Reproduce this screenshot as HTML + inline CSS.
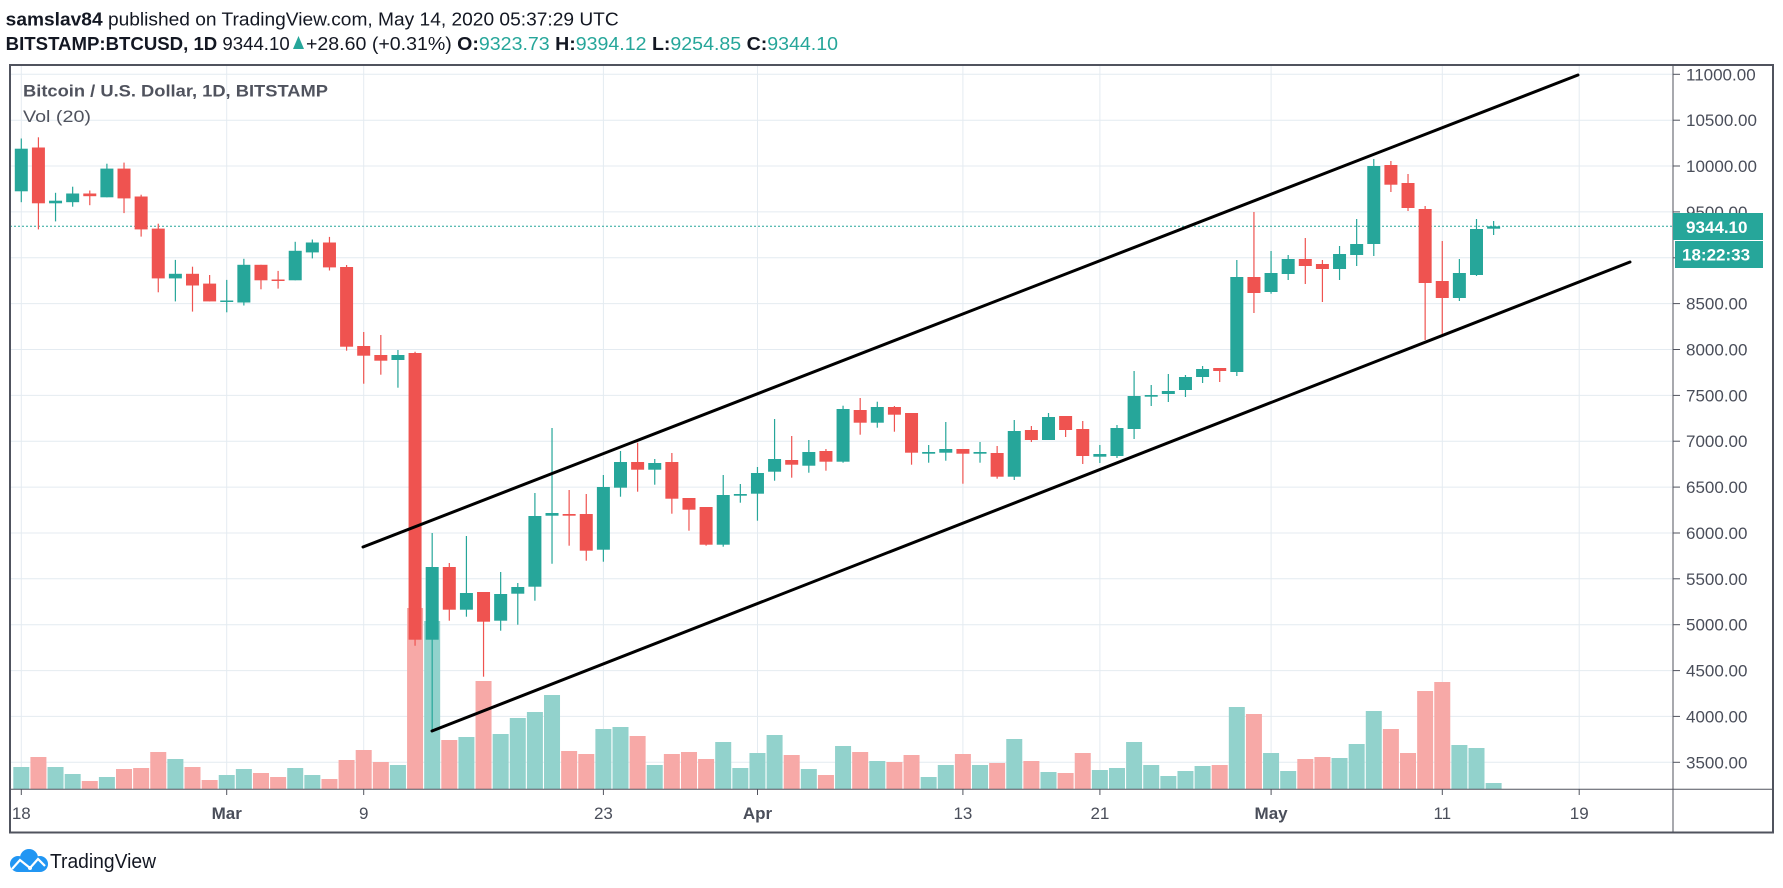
<!DOCTYPE html>
<html><head><meta charset="utf-8">
<style>
html,body{margin:0;padding:0;background:#fff;}
svg{display:block;font-family:"Liberation Sans",Arial,sans-serif;}
.g line{stroke:#26a69a;stroke-width:1.2}
.g rect.b{fill:#26a69a}
.r line{stroke:#ef5350;stroke-width:1.2}
.r rect.b{fill:#ef5350}
.g rect.v{fill:#92d2cc}
.r rect.v{fill:#f7a9a7}
.grid line{stroke:#e4ebf1;stroke-width:1}
.pl{font-size:17px;fill:#4a4e5a}
.xl{font-size:17px;fill:#4a4e5a;text-anchor:middle}
</style></head>
<body>
<svg width="1783" height="888" viewBox="0 0 1783 888" xmlns="http://www.w3.org/2000/svg">
<rect width="1783" height="888" fill="#fff"/>

<!-- header -->
<text x="5.7" y="25.5" font-size="18" fill="#131722" textLength="613" lengthAdjust="spacingAndGlyphs"><tspan font-weight="bold">samslav84</tspan> published on TradingView.com, May 14, 2020 05:37:29 UTC</text>
<text x="5.7" y="50" font-size="18" fill="#131722" textLength="284" lengthAdjust="spacingAndGlyphs"><tspan font-weight="bold">BITSTAMP:BTCUSD, 1D</tspan> 9344.10</text>
<polygon points="293,49 304,49 298.5,36" fill="#26a69a"/>
<text x="306" y="50" font-size="18" fill="#131722" textLength="532" lengthAdjust="spacingAndGlyphs">+28.60 (+0.31%) <tspan font-weight="bold">O:</tspan><tspan fill="#26a69a">9323.73</tspan> <tspan font-weight="bold">H:</tspan><tspan fill="#26a69a">9394.12</tspan> <tspan font-weight="bold">L:</tspan><tspan fill="#26a69a">9254.85</tspan> <tspan font-weight="bold">C:</tspan><tspan fill="#26a69a">9344.10</tspan></text>

<!-- grid -->
<g class="grid">
<line x1="10" x2="1673" y1="74.3" y2="74.3"/>
<line x1="10" x2="1673" y1="120.2" y2="120.2"/>
<line x1="10" x2="1673" y1="166" y2="166"/>
<line x1="10" x2="1673" y1="211.9" y2="211.9"/>
<line x1="10" x2="1673" y1="257.8" y2="257.8"/>
<line x1="10" x2="1673" y1="303.6" y2="303.6"/>
<line x1="10" x2="1673" y1="349.5" y2="349.5"/>
<line x1="10" x2="1673" y1="395.4" y2="395.4"/>
<line x1="10" x2="1673" y1="441.2" y2="441.2"/>
<line x1="10" x2="1673" y1="487.1" y2="487.1"/>
<line x1="10" x2="1673" y1="533" y2="533"/>
<line x1="10" x2="1673" y1="578.8" y2="578.8"/>
<line x1="10" x2="1673" y1="624.7" y2="624.7"/>
<line x1="10" x2="1673" y1="670.6" y2="670.6"/>
<line x1="10" x2="1673" y1="716.4" y2="716.4"/>
<line x1="10" x2="1673" y1="762.3" y2="762.3"/>
<line x1="21.3" x2="21.3" y1="65" y2="789"/>
<line x1="226.7" x2="226.7" y1="65" y2="789"/>
<line x1="363.7" x2="363.7" y1="65" y2="789"/>
<line x1="603.4" x2="603.4" y1="65" y2="789"/>
<line x1="757.5" x2="757.5" y1="65" y2="789"/>
<line x1="962.9" x2="962.9" y1="65" y2="789"/>
<line x1="1099.9" x2="1099.9" y1="65" y2="789"/>
<line x1="1271.1" x2="1271.1" y1="65" y2="789"/>
<line x1="1442.3" x2="1442.3" y1="65" y2="789"/>
<line x1="1579.2" x2="1579.2" y1="65" y2="789"/>
</g>

<!-- titles -->
<text x="23" y="96.5" font-size="17" font-weight="bold" fill="#50535e" textLength="305" lengthAdjust="spacingAndGlyphs">Bitcoin / U.S. Dollar, 1D, BITSTAMP</text>
<text x="23" y="122" font-size="17" fill="#50535e" textLength="68" lengthAdjust="spacingAndGlyphs">Vol (20)</text>

<!-- current price dotted line -->
<line x1="10" x2="1673" y1="226.2" y2="226.2" stroke="#26a69a" stroke-width="1" stroke-dasharray="2,2"/>

<!-- candles + volume -->
<g class="g" transform="translate(21.3)"><rect class="v" x="-8" width="16" y="767" height="22"/><line x1="0" x2="0" y1="138.5" y2="202.2"/><rect class="b" x="-6.5" width="13" y="148.7" height="42.6"/></g>
<g class="r" transform="translate(38.42)"><rect class="v" x="-8" width="16" y="757" height="32"/><line x1="0" x2="0" y1="137.3" y2="229.4"/><rect class="b" x="-6.5" width="13" y="147.5" height="55.8"/></g>
<g class="g" transform="translate(55.54)"><rect class="v" x="-8" width="16" y="767" height="22"/><line x1="0" x2="0" y1="192.8" y2="221.4"/><rect class="b" x="-6.5" width="13" y="200.7" height="2.6"/></g>
<g class="g" transform="translate(72.66)"><rect class="v" x="-8" width="16" y="774" height="15"/><line x1="0" x2="0" y1="186.7" y2="206.7"/><rect class="b" x="-6.5" width="13" y="193.5" height="8.7"/></g>
<g class="r" transform="translate(89.78)"><rect class="v" x="-8" width="16" y="781" height="8"/><line x1="0" x2="0" y1="190.5" y2="205.2"/><rect class="b" x="-6.5" width="13" y="193.5" height="2.7"/></g>
<g class="g" transform="translate(106.9)"><rect class="v" x="-8" width="16" y="777" height="12"/><line x1="0" x2="0" y1="163.7" y2="197.3"/><rect class="b" x="-6.5" width="13" y="168.6" height="28.7"/></g>
<g class="r" transform="translate(124.02)"><rect class="v" x="-8" width="16" y="769" height="20"/><line x1="0" x2="0" y1="162.6" y2="213.1"/><rect class="b" x="-6.5" width="13" y="168.6" height="29.8"/></g>
<g class="r" transform="translate(141.14)"><rect class="v" x="-8" width="16" y="768" height="21"/><line x1="0" x2="0" y1="194.7" y2="236.6"/><rect class="b" x="-6.5" width="13" y="196.5" height="32.9"/></g>
<g class="r" transform="translate(158.26)"><rect class="v" x="-8" width="16" y="752" height="37"/><line x1="0" x2="0" y1="223.7" y2="292.3"/><rect class="b" x="-6.5" width="13" y="228.6" height="49.8"/></g>
<g class="g" transform="translate(175.38)"><rect class="v" x="-8" width="16" y="759" height="30"/><line x1="0" x2="0" y1="259.9" y2="301.4"/><rect class="b" x="-6.5" width="13" y="273.8" height="4.6"/></g>
<g class="r" transform="translate(192.5)"><rect class="v" x="-8" width="16" y="767" height="22"/><line x1="0" x2="0" y1="266.7" y2="311.6"/><rect class="b" x="-6.5" width="13" y="273.8" height="11.7"/></g>
<g class="r" transform="translate(209.62)"><rect class="v" x="-8" width="16" y="780" height="9"/><line x1="0" x2="0" y1="275" y2="301.4"/><rect class="b" x="-6.5" width="13" y="283.6" height="17.8"/></g>
<g class="g" transform="translate(226.74)"><rect class="v" x="-8" width="16" y="775" height="14"/><line x1="0" x2="0" y1="279.9" y2="312.3"/><rect class="b" x="-6.5" width="13" y="300.5" height="1.5"/></g>
<g class="g" transform="translate(243.86)"><rect class="v" x="-8" width="16" y="769" height="20"/><line x1="0" x2="0" y1="258.8" y2="305.5"/><rect class="b" x="-6.5" width="13" y="264.8" height="37.7"/></g>
<g class="r" transform="translate(260.98)"><rect class="v" x="-8" width="16" y="773" height="16"/><line x1="0" x2="0" y1="264.8" y2="289.3"/><rect class="b" x="-6.5" width="13" y="264.8" height="15.5"/></g>
<g class="r" transform="translate(278.1)"><rect class="v" x="-8" width="16" y="777" height="12"/><line x1="0" x2="0" y1="270.9" y2="288.6"/><rect class="b" x="-6.5" width="13" y="279.5" height="1.5"/></g>
<g class="g" transform="translate(295.22)"><rect class="v" x="-8" width="16" y="768" height="21"/><line x1="0" x2="0" y1="241.8" y2="280.3"/><rect class="b" x="-6.5" width="13" y="250.8" height="29.5"/></g>
<g class="g" transform="translate(312.34)"><rect class="v" x="-8" width="16" y="775" height="14"/><line x1="0" x2="0" y1="239.5" y2="258.4"/><rect class="b" x="-6.5" width="13" y="242.5" height="9.9"/></g>
<g class="r" transform="translate(329.46)"><rect class="v" x="-8" width="16" y="779" height="10"/><line x1="0" x2="0" y1="236.9" y2="270.5"/><rect class="b" x="-6.5" width="13" y="242.5" height="24.9"/></g>
<g class="r" transform="translate(346.58)"><rect class="v" x="-8" width="16" y="760" height="29"/><line x1="0" x2="0" y1="265" y2="350.7"/><rect class="b" x="-6.5" width="13" y="267" height="79.7"/></g>
<g class="r" transform="translate(363.7)"><rect class="v" x="-8" width="16" y="750" height="39"/><line x1="0" x2="0" y1="332" y2="383.7"/><rect class="b" x="-6.5" width="13" y="346" height="9.7"/></g>
<g class="r" transform="translate(380.82)"><rect class="v" x="-8" width="16" y="762" height="27"/><line x1="0" x2="0" y1="335" y2="374.7"/><rect class="b" x="-6.5" width="13" y="355" height="5.7"/></g>
<g class="g" transform="translate(397.94)"><rect class="v" x="-8" width="16" y="765" height="24"/><line x1="0" x2="0" y1="350" y2="387.7"/><rect class="b" x="-6.5" width="13" y="355" height="5"/></g>
<g class="r" transform="translate(415.06)"><rect class="v" x="-8" width="16" y="608" height="181"/><line x1="0" x2="0" y1="351.7" y2="645.7"/><rect class="b" x="-6.5" width="13" y="353" height="286.7"/></g>
<g class="g" transform="translate(432.18)"><rect class="v" x="-8" width="16" y="621" height="168"/><line x1="0" x2="0" y1="533" y2="730"/><rect class="b" x="-6.5" width="13" y="567" height="72.7"/></g>
<g class="r" transform="translate(449.3)"><rect class="v" x="-8" width="16" y="740" height="49"/><line x1="0" x2="0" y1="563" y2="620.7"/><rect class="b" x="-6.5" width="13" y="567" height="42.7"/></g>
<g class="g" transform="translate(466.42)"><rect class="v" x="-8" width="16" y="737" height="52"/><line x1="0" x2="0" y1="536" y2="616.7"/><rect class="b" x="-6.5" width="13" y="593" height="16.7"/></g>
<g class="r" transform="translate(483.54)"><rect class="v" x="-8" width="16" y="681" height="108"/><line x1="0" x2="0" y1="592" y2="676.7"/><rect class="b" x="-6.5" width="13" y="592" height="29.7"/></g>
<g class="g" transform="translate(500.66)"><rect class="v" x="-8" width="16" y="734" height="55"/><line x1="0" x2="0" y1="572" y2="630.7"/><rect class="b" x="-6.5" width="13" y="594" height="26.7"/></g>
<g class="g" transform="translate(517.78)"><rect class="v" x="-8" width="16" y="718" height="71"/><line x1="0" x2="0" y1="583" y2="624.7"/><rect class="b" x="-6.5" width="13" y="587" height="6.7"/></g>
<g class="g" transform="translate(534.9)"><rect class="v" x="-8" width="16" y="712" height="77"/><line x1="0" x2="0" y1="493" y2="600.7"/><rect class="b" x="-6.5" width="13" y="516" height="70.7"/></g>
<g class="g" transform="translate(552.02)"><rect class="v" x="-8" width="16" y="695" height="94"/><line x1="0" x2="0" y1="428" y2="563.7"/><rect class="b" x="-6.5" width="13" y="513" height="2.7"/></g>
<g class="r" transform="translate(569.14)"><rect class="v" x="-8" width="16" y="751" height="38"/><line x1="0" x2="0" y1="490" y2="545.7"/><rect class="b" x="-6.5" width="13" y="514" height="1.7"/></g>
<g class="r" transform="translate(586.26)"><rect class="v" x="-8" width="16" y="754" height="35"/><line x1="0" x2="0" y1="494" y2="560.7"/><rect class="b" x="-6.5" width="13" y="514" height="36.7"/></g>
<g class="g" transform="translate(603.38)"><rect class="v" x="-8" width="16" y="729" height="60"/><line x1="0" x2="0" y1="475" y2="561.7"/><rect class="b" x="-6.5" width="13" y="487" height="62.7"/></g>
<g class="g" transform="translate(620.5)"><rect class="v" x="-8" width="16" y="727" height="62"/><line x1="0" x2="0" y1="451" y2="496.7"/><rect class="b" x="-6.5" width="13" y="462" height="25.7"/></g>
<g class="r" transform="translate(637.62)"><rect class="v" x="-8" width="16" y="736" height="53"/><line x1="0" x2="0" y1="442.7" y2="491.7"/><rect class="b" x="-6.5" width="13" y="462" height="7.7"/></g>
<g class="g" transform="translate(654.74)"><rect class="v" x="-8" width="16" y="765" height="24"/><line x1="0" x2="0" y1="459" y2="484.7"/><rect class="b" x="-6.5" width="13" y="463" height="6.7"/></g>
<g class="r" transform="translate(671.86)"><rect class="v" x="-8" width="16" y="754" height="35"/><line x1="0" x2="0" y1="453" y2="513.7"/><rect class="b" x="-6.5" width="13" y="462" height="36.7"/></g>
<g class="r" transform="translate(688.98)"><rect class="v" x="-8" width="16" y="752" height="37"/><line x1="0" x2="0" y1="498" y2="530.7"/><rect class="b" x="-6.5" width="13" y="498" height="11.7"/></g>
<g class="r" transform="translate(706.1)"><rect class="v" x="-8" width="16" y="759" height="30"/><line x1="0" x2="0" y1="507" y2="545.7"/><rect class="b" x="-6.5" width="13" y="507" height="37.7"/></g>
<g class="g" transform="translate(723.22)"><rect class="v" x="-8" width="16" y="742" height="47"/><line x1="0" x2="0" y1="475" y2="546.7"/><rect class="b" x="-6.5" width="13" y="495" height="49.7"/></g>
<g class="g" transform="translate(740.34)"><rect class="v" x="-8" width="16" y="768" height="21"/><line x1="0" x2="0" y1="484" y2="502.7"/><rect class="b" x="-6.5" width="13" y="494" height="1.7"/></g>
<g class="g" transform="translate(757.46)"><rect class="v" x="-8" width="16" y="753" height="36"/><line x1="0" x2="0" y1="467" y2="520.7"/><rect class="b" x="-6.5" width="13" y="473" height="20.7"/></g>
<g class="g" transform="translate(774.58)"><rect class="v" x="-8" width="16" y="735" height="54"/><line x1="0" x2="0" y1="419" y2="480.7"/><rect class="b" x="-6.5" width="13" y="459" height="12.7"/></g>
<g class="r" transform="translate(791.7)"><rect class="v" x="-8" width="16" y="755" height="34"/><line x1="0" x2="0" y1="436" y2="477.7"/><rect class="b" x="-6.5" width="13" y="460" height="4.7"/></g>
<g class="g" transform="translate(808.82)"><rect class="v" x="-8" width="16" y="769" height="20"/><line x1="0" x2="0" y1="440" y2="472.7"/><rect class="b" x="-6.5" width="13" y="452" height="13.7"/></g>
<g class="r" transform="translate(825.94)"><rect class="v" x="-8" width="16" y="775" height="14"/><line x1="0" x2="0" y1="449" y2="470.7"/><rect class="b" x="-6.5" width="13" y="451" height="10.7"/></g>
<g class="g" transform="translate(843.06)"><rect class="v" x="-8" width="16" y="746" height="43"/><line x1="0" x2="0" y1="405.7" y2="462.7"/><rect class="b" x="-6.5" width="13" y="409" height="52.7"/></g>
<g class="r" transform="translate(860.18)"><rect class="v" x="-8" width="16" y="752" height="37"/><line x1="0" x2="0" y1="398" y2="434.7"/><rect class="b" x="-6.5" width="13" y="410" height="12.7"/></g>
<g class="g" transform="translate(877.3)"><rect class="v" x="-8" width="16" y="761" height="28"/><line x1="0" x2="0" y1="401.7" y2="427.7"/><rect class="b" x="-6.5" width="13" y="407" height="15.7"/></g>
<g class="r" transform="translate(894.42)"><rect class="v" x="-8" width="16" y="762" height="27"/><line x1="0" x2="0" y1="406" y2="431.7"/><rect class="b" x="-6.5" width="13" y="407" height="7.7"/></g>
<g class="r" transform="translate(911.54)"><rect class="v" x="-8" width="16" y="755" height="34"/><line x1="0" x2="0" y1="413" y2="464.7"/><rect class="b" x="-6.5" width="13" y="413" height="39.7"/></g>
<g class="g" transform="translate(928.66)"><rect class="v" x="-8" width="16" y="777" height="12"/><line x1="0" x2="0" y1="445" y2="462.7"/><rect class="b" x="-6.5" width="13" y="452" height="1.7"/></g>
<g class="g" transform="translate(945.78)"><rect class="v" x="-8" width="16" y="765" height="24"/><line x1="0" x2="0" y1="422" y2="460.7"/><rect class="b" x="-6.5" width="13" y="449" height="3.7"/></g>
<g class="r" transform="translate(962.9)"><rect class="v" x="-8" width="16" y="754" height="35"/><line x1="0" x2="0" y1="449" y2="483.7"/><rect class="b" x="-6.5" width="13" y="449" height="4.7"/></g>
<g class="g" transform="translate(980.02)"><rect class="v" x="-8" width="16" y="765" height="24"/><line x1="0" x2="0" y1="442" y2="462.7"/><rect class="b" x="-6.5" width="13" y="452" height="1.7"/></g>
<g class="r" transform="translate(997.14)"><rect class="v" x="-8" width="16" y="763" height="26"/><line x1="0" x2="0" y1="446" y2="478.7"/><rect class="b" x="-6.5" width="13" y="453" height="23.7"/></g>
<g class="g" transform="translate(1014.26)"><rect class="v" x="-8" width="16" y="739" height="50"/><line x1="0" x2="0" y1="420" y2="480"/><rect class="b" x="-6.5" width="13" y="431" height="45.7"/></g>
<g class="r" transform="translate(1031.38)"><rect class="v" x="-8" width="16" y="761" height="28"/><line x1="0" x2="0" y1="426" y2="442"/><rect class="b" x="-6.5" width="13" y="430" height="10"/></g>
<g class="g" transform="translate(1048.5)"><rect class="v" x="-8" width="16" y="772" height="17"/><line x1="0" x2="0" y1="413" y2="440"/><rect class="b" x="-6.5" width="13" y="417" height="23"/></g>
<g class="r" transform="translate(1065.62)"><rect class="v" x="-8" width="16" y="773" height="16"/><line x1="0" x2="0" y1="416" y2="437"/><rect class="b" x="-6.5" width="13" y="416" height="14"/></g>
<g class="r" transform="translate(1082.74)"><rect class="v" x="-8" width="16" y="753" height="36"/><line x1="0" x2="0" y1="421" y2="464"/><rect class="b" x="-6.5" width="13" y="429" height="27"/></g>
<g class="g" transform="translate(1099.86)"><rect class="v" x="-8" width="16" y="770" height="19"/><line x1="0" x2="0" y1="445" y2="463"/><rect class="b" x="-6.5" width="13" y="454" height="2.7"/></g>
<g class="g" transform="translate(1116.98)"><rect class="v" x="-8" width="16" y="768" height="21"/><line x1="0" x2="0" y1="425" y2="458"/><rect class="b" x="-6.5" width="13" y="428" height="28"/></g>
<g class="g" transform="translate(1134.1)"><rect class="v" x="-8" width="16" y="742" height="47"/><line x1="0" x2="0" y1="371" y2="439"/><rect class="b" x="-6.5" width="13" y="396" height="33"/></g>
<g class="g" transform="translate(1151.22)"><rect class="v" x="-8" width="16" y="765" height="24"/><line x1="0" x2="0" y1="385" y2="406"/><rect class="b" x="-6.5" width="13" y="395" height="1.7"/></g>
<g class="g" transform="translate(1168.34)"><rect class="v" x="-8" width="16" y="776" height="13"/><line x1="0" x2="0" y1="374" y2="402"/><rect class="b" x="-6.5" width="13" y="391" height="3"/></g>
<g class="g" transform="translate(1185.46)"><rect class="v" x="-8" width="16" y="771" height="18"/><line x1="0" x2="0" y1="375" y2="397"/><rect class="b" x="-6.5" width="13" y="377" height="13"/></g>
<g class="g" transform="translate(1202.58)"><rect class="v" x="-8" width="16" y="766" height="23"/><line x1="0" x2="0" y1="366" y2="383"/><rect class="b" x="-6.5" width="13" y="369" height="8"/></g>
<g class="r" transform="translate(1219.7)"><rect class="v" x="-8" width="16" y="765" height="24"/><line x1="0" x2="0" y1="368" y2="382"/><rect class="b" x="-6.5" width="13" y="368" height="3"/></g>
<g class="g" transform="translate(1236.82)"><rect class="v" x="-8" width="16" y="707" height="82"/><line x1="0" x2="0" y1="260" y2="376"/><rect class="b" x="-6.5" width="13" y="277" height="95"/></g>
<g class="r" transform="translate(1253.94)"><rect class="v" x="-8" width="16" y="714" height="75"/><line x1="0" x2="0" y1="212" y2="313"/><rect class="b" x="-6.5" width="13" y="277" height="16"/></g>
<g class="g" transform="translate(1271.06)"><rect class="v" x="-8" width="16" y="753" height="36"/><line x1="0" x2="0" y1="251" y2="293.7"/><rect class="b" x="-6.5" width="13" y="273" height="19"/></g>
<g class="g" transform="translate(1288.18)"><rect class="v" x="-8" width="16" y="771" height="18"/><line x1="0" x2="0" y1="255" y2="280"/><rect class="b" x="-6.5" width="13" y="259" height="15"/></g>
<g class="r" transform="translate(1305.3)"><rect class="v" x="-8" width="16" y="759" height="30"/><line x1="0" x2="0" y1="238" y2="284"/><rect class="b" x="-6.5" width="13" y="259" height="7"/></g>
<g class="r" transform="translate(1322.42)"><rect class="v" x="-8" width="16" y="757" height="32"/><line x1="0" x2="0" y1="260" y2="302"/><rect class="b" x="-6.5" width="13" y="264" height="5"/></g>
<g class="g" transform="translate(1339.54)"><rect class="v" x="-8" width="16" y="758" height="31"/><line x1="0" x2="0" y1="246" y2="280"/><rect class="b" x="-6.5" width="13" y="254" height="15"/></g>
<g class="g" transform="translate(1356.66)"><rect class="v" x="-8" width="16" y="744" height="45"/><line x1="0" x2="0" y1="219" y2="266"/><rect class="b" x="-6.5" width="13" y="244" height="11"/></g>
<g class="g" transform="translate(1373.78)"><rect class="v" x="-8" width="16" y="711" height="78"/><line x1="0" x2="0" y1="159" y2="256"/><rect class="b" x="-6.5" width="13" y="166" height="78"/></g>
<g class="r" transform="translate(1390.9)"><rect class="v" x="-8" width="16" y="729" height="60"/><line x1="0" x2="0" y1="161" y2="192"/><rect class="b" x="-6.5" width="13" y="165" height="19.7"/></g>
<g class="r" transform="translate(1408.02)"><rect class="v" x="-8" width="16" y="753" height="36"/><line x1="0" x2="0" y1="174" y2="211"/><rect class="b" x="-6.5" width="13" y="183" height="25"/></g>
<g class="r" transform="translate(1425.14)"><rect class="v" x="-8" width="16" y="691" height="98"/><line x1="0" x2="0" y1="206" y2="340"/><rect class="b" x="-6.5" width="13" y="209" height="74"/></g>
<g class="r" transform="translate(1442.26)"><rect class="v" x="-8" width="16" y="682" height="107"/><line x1="0" x2="0" y1="241" y2="334"/><rect class="b" x="-6.5" width="13" y="281" height="17"/></g>
<g class="g" transform="translate(1459.38)"><rect class="v" x="-8" width="16" y="745" height="44"/><line x1="0" x2="0" y1="259" y2="301"/><rect class="b" x="-6.5" width="13" y="273" height="25"/></g>
<g class="g" transform="translate(1476.5)"><rect class="v" x="-8" width="16" y="748" height="41"/><line x1="0" x2="0" y1="219" y2="276"/><rect class="b" x="-6.5" width="13" y="229" height="46"/></g>
<g class="g" transform="translate(1493.62)"><rect class="v" x="-8" width="16" y="783" height="6"/><line x1="0" x2="0" y1="221" y2="235"/><rect class="b" x="-6.5" width="13" y="226.3" height="2.4"/></g>

<!-- trend channel -->
<line x1="363" y1="547" x2="1578" y2="75" stroke="#000" stroke-width="3" stroke-linecap="round"/>
<line x1="432" y1="731" x2="1630" y2="262" stroke="#000" stroke-width="3" stroke-linecap="round"/>

<!-- axes -->
<line x1="1673" x2="1673" y1="65" y2="832" stroke="#50535e" stroke-width="1"/>
<line x1="10" x2="1773" y1="789.3" y2="789.3" stroke="#50535e" stroke-width="1"/>
<g stroke="#50535e" stroke-width="1">
<line x1="1673" x2="1680" y1="74.3" y2="74.3"/>
<line x1="1673" x2="1680" y1="120.2" y2="120.2"/>
<line x1="1673" x2="1680" y1="166" y2="166"/>
<line x1="1673" x2="1680" y1="211.9" y2="211.9"/>
<line x1="1673" x2="1680" y1="257.8" y2="257.8"/>
<line x1="1673" x2="1680" y1="303.6" y2="303.6"/>
<line x1="1673" x2="1680" y1="349.5" y2="349.5"/>
<line x1="1673" x2="1680" y1="395.4" y2="395.4"/>
<line x1="1673" x2="1680" y1="441.2" y2="441.2"/>
<line x1="1673" x2="1680" y1="487.1" y2="487.1"/>
<line x1="1673" x2="1680" y1="533" y2="533"/>
<line x1="1673" x2="1680" y1="578.8" y2="578.8"/>
<line x1="1673" x2="1680" y1="624.7" y2="624.7"/>
<line x1="1673" x2="1680" y1="670.6" y2="670.6"/>
<line x1="1673" x2="1680" y1="716.4" y2="716.4"/>
<line x1="1673" x2="1680" y1="762.3" y2="762.3"/>
<line x1="21.3" x2="21.3" y1="789" y2="795"/>
<line x1="226.7" x2="226.7" y1="789" y2="795"/>
<line x1="363.7" x2="363.7" y1="789" y2="795"/>
<line x1="603.4" x2="603.4" y1="789" y2="795"/>
<line x1="757.5" x2="757.5" y1="789" y2="795"/>
<line x1="962.9" x2="962.9" y1="789" y2="795"/>
<line x1="1099.9" x2="1099.9" y1="789" y2="795"/>
<line x1="1271.1" x2="1271.1" y1="789" y2="795"/>
<line x1="1442.3" x2="1442.3" y1="789" y2="795"/>
<line x1="1579.2" x2="1579.2" y1="789" y2="795"/>
</g>

<!-- price labels -->
<text class="pl" x="1686" y="80.3">11000.00</text>
<text class="pl" x="1686" y="126.2">10500.00</text>
<text class="pl" x="1686" y="172">10000.00</text>
<text class="pl" x="1686" y="217.9">9500.00</text>
<text class="pl" x="1686" y="309.6">8500.00</text>
<text class="pl" x="1686" y="355.5">8000.00</text>
<text class="pl" x="1686" y="401.4">7500.00</text>
<text class="pl" x="1686" y="447.2">7000.00</text>
<text class="pl" x="1686" y="493.1">6500.00</text>
<text class="pl" x="1686" y="539">6000.00</text>
<text class="pl" x="1686" y="584.8">5500.00</text>
<text class="pl" x="1686" y="630.7">5000.00</text>
<text class="pl" x="1686" y="676.6">4500.00</text>
<text class="pl" x="1686" y="722.4">4000.00</text>
<text class="pl" x="1686" y="768.3">3500.00</text>

<!-- current price boxes -->
<rect x="1673" y="213" width="90" height="27" fill="#26a69a"/>
<text x="1686" y="233" font-size="17" font-weight="bold" fill="#fff">9344.10</text>
<rect x="1675" y="241" width="88" height="27" fill="#26a69a"/>
<text x="1682" y="260.7" font-size="17" font-weight="bold" fill="#fff">18:22:33</text>

<!-- x labels -->
<text class="xl" x="21.3" y="819">18</text>
<text class="xl" x="226.7" y="819" font-weight="bold">Mar</text>
<text class="xl" x="363.7" y="819">9</text>
<text class="xl" x="603.4" y="819">23</text>
<text class="xl" x="757.5" y="819" font-weight="bold">Apr</text>
<text class="xl" x="962.9" y="819">13</text>
<text class="xl" x="1099.9" y="819">21</text>
<text class="xl" x="1271.1" y="819" font-weight="bold">May</text>
<text class="xl" x="1442.3" y="819">11</text>
<text class="xl" x="1579.2" y="819">19</text>

<!-- frame -->
<rect x="10" y="65" width="1763" height="767.5" fill="none" stroke="#50535e" stroke-width="2"/>

<!-- logo -->
<g>
<circle cx="18" cy="864" r="8" fill="#2196f3"/>
<circle cx="29" cy="858" r="9" fill="#2196f3"/>
<circle cx="40" cy="864" r="8" fill="#2196f3"/>
<rect x="18" y="862" width="22" height="10" fill="#2196f3"/>
<polyline points="12,869 20,860 30,868 38,859 45,866" fill="none" stroke="#fff" stroke-width="2.2"/>
<circle cx="30" cy="868" r="2" fill="#fff"/>
</g>
<text x="50" y="868" font-size="20" fill="#131722" textLength="106" lengthAdjust="spacingAndGlyphs">TradingView</text>
</svg>
</body></html>
